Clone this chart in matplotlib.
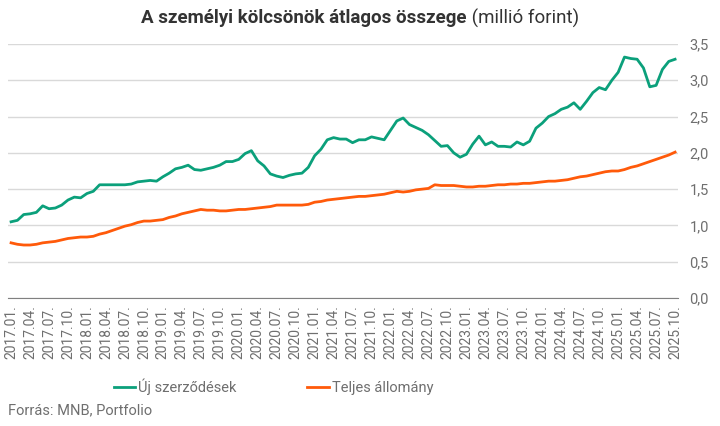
import matplotlib.pyplot as plt
from matplotlib.ticker import FuncFormatter

plt.rcParams['font.family'] = ['Roboto', 'DejaVu Sans']

# Monthly data, 2017.01 - 2025.10 (million HUF)
months = [f"{y}.{m:02d}." for y in range(2017, 2026) for m in range(1, 13)][:106]

uj_szerzodesek = [
    1.05, 1.07, 1.15, 1.16, 1.18, 1.27, 1.23, 1.24, 1.28, 1.35, 1.39, 1.38,
    1.44, 1.47, 1.56, 1.56, 1.56, 1.56, 1.56, 1.57, 1.60, 1.61, 1.62, 1.61,
    1.67, 1.72, 1.78, 1.80, 1.83, 1.77, 1.76, 1.78, 1.80, 1.83, 1.88, 1.88,
    1.91, 1.99, 2.03, 1.89, 1.82, 1.71, 1.68, 1.66, 1.69, 1.71, 1.72, 1.80,
    1.96, 2.05, 2.18, 2.21, 2.19, 2.19, 2.14, 2.18, 2.18, 2.22, 2.20, 2.18,
    2.31, 2.44, 2.48, 2.39, 2.35, 2.31, 2.25, 2.17, 2.09, 2.10, 2.00, 1.94,
    1.98, 2.12, 2.23, 2.11, 2.15, 2.09, 2.09, 2.08, 2.15, 2.11, 2.16, 2.34,
    2.41, 2.50, 2.54, 2.60, 2.63, 2.69, 2.60, 2.71, 2.83, 2.90, 2.87, 3.00,
    3.11, 3.32, 3.30, 3.29, 3.17, 2.91, 2.93, 3.15, 3.26, 3.29,
]

teljes_allomany = [
    0.76, 0.74, 0.73, 0.73, 0.74, 0.76, 0.77, 0.78, 0.80, 0.82, 0.83, 0.84,
    0.84, 0.85, 0.88, 0.90, 0.93, 0.96, 0.99, 1.01, 1.04, 1.06, 1.06, 1.07,
    1.08, 1.11, 1.13, 1.16, 1.18, 1.20, 1.22, 1.21, 1.21, 1.20, 1.20, 1.21,
    1.22, 1.22, 1.23, 1.24, 1.25, 1.26, 1.28, 1.28, 1.28, 1.28, 1.28, 1.29,
    1.32, 1.33, 1.35, 1.36, 1.37, 1.38, 1.39, 1.40, 1.40, 1.41, 1.42, 1.43,
    1.45, 1.47, 1.46, 1.47, 1.49, 1.50, 1.51, 1.56, 1.55, 1.55, 1.55, 1.54,
    1.53, 1.53, 1.54, 1.54, 1.55, 1.56, 1.56, 1.57, 1.57, 1.58, 1.58, 1.59,
    1.60, 1.61, 1.61, 1.62, 1.63, 1.65, 1.67, 1.68, 1.70, 1.72, 1.74, 1.75,
    1.75, 1.77, 1.80, 1.82, 1.85, 1.88, 1.91, 1.94, 1.97, 2.01,
]

green = '#0ba07b'
orange = '#ff5a0a'
label_gray = '#6f6f6f'

fig = plt.figure(figsize=(7.2, 4.26), dpi=100)
ax = fig.add_axes([0.011, 0.3005, 0.931, 0.5962])

x = list(range(len(months)))
ax.plot(x, uj_szerzodesek, color=green, lw=2.0, label='Új szerződések', zorder=3)
ax.plot(x, teljes_allomany, color=orange, lw=2.0, label='Teljes állomány', zorder=3)

ax.set_xlim(-0.5, len(months) - 0.5)
ax.set_ylim(0, 3.5)
ax.set_yticks([i * 0.5 for i in range(8)])
ax.yaxis.set_major_formatter(FuncFormatter(lambda v, p: f"{v:.1f}".replace('.', ',')))
ax.yaxis.tick_right()
ax.grid(axis='y', color='#d9d9d9', lw=1)
ax.set_axisbelow(True)

ax.set_xticks(x[::3])
ax.set_xticklabels(months[::3], rotation=90)

for s in ['top', 'left', 'right']:
    ax.spines[s].set_visible(False)
ax.spines['bottom'].set_color('#808080')
ax.tick_params(axis='both', length=0, colors=label_gray)
ax.tick_params(axis='x', labelsize=10, pad=5)
ax.tick_params(axis='y', labelsize=10.5, pad=8)

# Title: bold part + regular part, centred together
t1 = fig.text(0.5, 0.957, 'A személyi kölcsönök átlagos összege', fontsize=13.5,
              fontweight='bold', color='#333333', ha='right', va='center')
t2 = fig.text(0.5, 0.957, ' (millió forint)', fontsize=13.5,
              color='#333333', ha='left', va='center')
fig.canvas.draw()
r = fig.canvas.get_renderer()
w1 = t1.get_window_extent(r).width
w2 = t2.get_window_extent(r).width
cx = 0.5 + (w1 - w2) / 2 / fig.bbox.width
t1.set_x(cx)
t2.set_x(cx)

leg = fig.legend(loc='center', bbox_to_anchor=(0.38, 0.092), ncol=2, frameon=False,
                 fontsize=10.5, handlelength=1.5, handletextpad=0.2, columnspacing=4.85)
for t in leg.get_texts():
    t.set_color(label_gray)

fig.text(0.011, 0.037, 'Forrás: MNB, Portfolio', fontsize=10.5, color=label_gray,
         ha='left', va='center')

fig.savefig('out.png', dpi=100)
